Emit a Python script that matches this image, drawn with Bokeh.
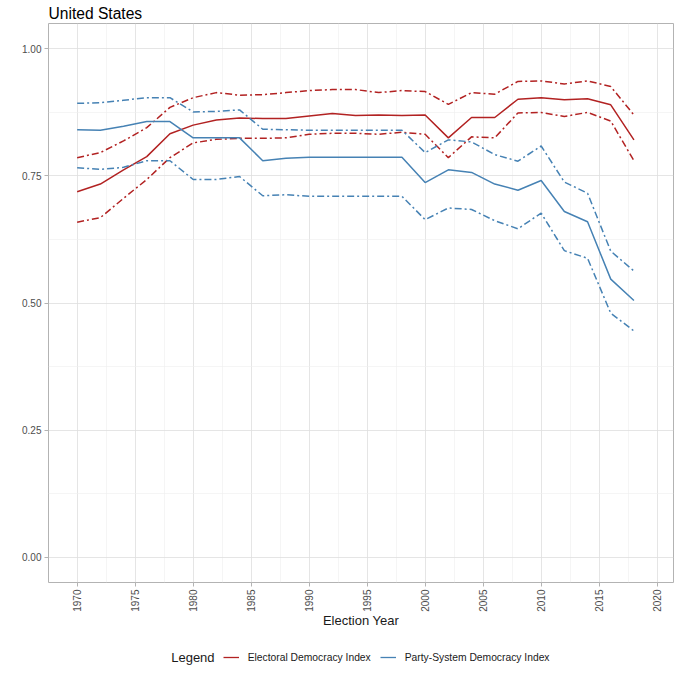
import math
from bokeh.plotting import figure
from bokeh.layouts import column
from bokeh.models import (Range1d, FixedTicker, NumeralTickFormatter, Legend, LegendItem,
                          ColumnDataSource)
from bokeh.core.properties import value
from bokeh.embed import file_html
from bokeh.resources import INLINE

years = [1970, 1972, 1974, 1976, 1978, 1980, 1982, 1984, 1986, 1988, 1990, 1992, 1994,
         1996, 1998, 2000, 2002, 2004, 2006, 2008, 2010, 2012, 2014, 2016, 2018]

edi = [0.719, 0.734, 0.762, 0.788, 0.833, 0.850, 0.860, 0.864, 0.863, 0.863, 0.868, 0.873, 0.869,
       0.870, 0.869, 0.870, 0.825, 0.865, 0.865, 0.901, 0.904, 0.900, 0.902, 0.890, 0.821]
edi_hi = [0.786, 0.796, 0.819, 0.845, 0.885, 0.904, 0.914, 0.909, 0.910, 0.914, 0.918, 0.920, 0.920,
          0.914, 0.918, 0.916, 0.891, 0.914, 0.911, 0.936, 0.937, 0.931, 0.937, 0.926, 0.870]
edi_lo = [0.659, 0.668, 0.706, 0.743, 0.786, 0.815, 0.822, 0.824, 0.824, 0.825, 0.832, 0.834, 0.834,
          0.832, 0.836, 0.832, 0.786, 0.827, 0.825, 0.874, 0.875, 0.867, 0.875, 0.858, 0.780]

psdi = [0.841, 0.840, 0.848, 0.857, 0.857, 0.825, 0.825, 0.825, 0.780, 0.785, 0.787, 0.787, 0.787,
        0.787, 0.787, 0.737, 0.762, 0.757, 0.734, 0.722, 0.741, 0.680, 0.660, 0.547, 0.505]
psdi_hi = [0.893, 0.894, 0.899, 0.904, 0.904, 0.876, 0.877, 0.880, 0.842, 0.841, 0.840, 0.840, 0.840,
           0.840, 0.840, 0.796, 0.821, 0.817, 0.792, 0.779, 0.809, 0.738, 0.716, 0.602, 0.563]
psdi_lo = [0.766, 0.763, 0.767, 0.780, 0.780, 0.743, 0.743, 0.749, 0.711, 0.713, 0.710, 0.710, 0.710,
           0.710, 0.710, 0.664, 0.687, 0.684, 0.662, 0.646, 0.677, 0.603, 0.588, 0.480, 0.445]

x_ticks = [1970, 1975, 1980, 1985, 1990, 1995, 2000, 2005, 2010, 2015, 2020]
x_minor = [1972.5, 1977.5, 1982.5, 1987.5, 1992.5, 1997.5, 2002.5, 2007.5, 2012.5, 2017.5]
y_ticks = [0.0, 0.25, 0.5, 0.75, 1.0]
y_minor = [0.125, 0.375, 0.625, 0.875]

series_labels = ["Electoral Democracy Index", "Party-System Democracy Index"]
legend_title = "Legend"

RED = "#B22222"
BLUE = "#4682B4"
FONT = "Liberation Sans"
DASH = "7 3 2 3"

src = ColumnDataSource(dict(year=years, edi=edi, edi_hi=edi_hi, edi_lo=edi_lo,
                            psdi=psdi, psdi_hi=psdi_hi, psdi_lo=psdi_lo))

BL, BR = 48, 7   # left / right borders shared by both figures

# ---------------- main panel ----------------
p = figure(width=680, height=640, output_backend="svg", toolbar_location=None,
           x_range=Range1d(1967.53, 2021.41), y_range=Range1d(-0.05, 1.05),
           min_border_left=BL, min_border_right=BR, min_border_top=0, min_border_bottom=58,
           title="United States")

p.title.text_font = FONT
p.title.text_font_size = "15.6px"
p.title.text_font_style = "normal"
p.title.text_color = "#000000"
p.title.standoff = 4
p.title.offset = 0

p.background_fill_color = "white"
p.border_fill_color = "white"
p.outline_line_color = "#b3b3b3"
p.outline_line_width = 1

p.xgrid.ticker = FixedTicker(ticks=x_ticks, minor_ticks=x_minor)
p.ygrid.ticker = FixedTicker(ticks=y_ticks, minor_ticks=y_minor)
for g in (p.xgrid, p.ygrid):
    g.grid_line_color = "#dedede"
    g.grid_line_width = 0.8
    g.minor_grid_line_color = "#eeeeee"
    g.minor_grid_line_width = 0.6

p.xaxis.ticker = FixedTicker(ticks=x_ticks)
p.yaxis.ticker = FixedTicker(ticks=y_ticks)
p.yaxis.formatter = NumeralTickFormatter(format="0.00")
p.xaxis.major_label_orientation = math.pi / 2
p.xaxis.axis_label = "Election Year"
for ax in (p.xaxis, p.yaxis):
    ax.axis_line_color = None
    ax.major_tick_line_color = "#b3b3b3"
    ax.major_tick_out = 4
    ax.major_tick_in = 0
    ax.minor_tick_line_color = None
    ax.major_label_text_font = FONT
    ax.major_label_text_font_size = "10px"
    ax.major_label_text_color = "#4d4d4d"
    ax.major_label_standoff = 3
p.xaxis.axis_label_text_font = FONT
p.xaxis.axis_label_text_font_size = "13px"
p.xaxis.axis_label_text_font_style = "normal"
p.xaxis.axis_label_text_color = "#1a1a1a"
p.xaxis.axis_label_standoff = -2

p.line("year", "edi", source=src, line_color=RED, line_width=1.5)
p.line("year", "edi_hi", source=src, line_color=RED, line_width=1.5, line_dash=DASH)
p.line("year", "edi_lo", source=src, line_color=RED, line_width=1.5, line_dash=DASH)
p.line("year", "psdi", source=src, line_color=BLUE, line_width=1.5)
p.line("year", "psdi_hi", source=src, line_color=BLUE, line_width=1.5, line_dash=DASH)
p.line("year", "psdi_lo", source=src, line_color=BLUE, line_width=1.5, line_dash=DASH)

# ---------------- legend strip (pixel coordinates) ----------------
LH = 40
q = figure(width=680, height=LH, output_backend="svg", toolbar_location=None,
           x_range=Range1d(BL, 680 - BR), y_range=Range1d(0, LH),
           x_axis_type=None, y_axis_type=None,
           min_border_left=BL, min_border_right=BR, min_border_top=0, min_border_bottom=0)
q.grid.visible = False
q.outline_line_color = None
q.background_fill_color = "white"
q.border_fill_color = "white"

# key renderers: same series, lying outside this strip's range, so only the legend keys show
k_edi = q.line("year", "edi", source=src, line_color=RED, line_width=1.3)
k_psdi = q.line("year", "psdi", source=src, line_color=BLUE, line_width=1.3)

q.text(x=[170.7], y=[LH - 17.3], text=[legend_title], text_font=value(FONT),
       text_font_size="13px", text_color="#1a1a1a", text_baseline="middle", text_align="left")

legend = Legend(items=[LegendItem(label=series_labels[0], renderers=[k_edi]),
                       LegendItem(label=series_labels[1], renderers=[k_psdi])],
                orientation="horizontal", location=(222.7 - BL, LH - 17.3 - 8))
legend.label_text_font = FONT
legend.label_text_font_size = "10.3px"
legend.label_text_color = "#1a1a1a"
legend.glyph_width = 16
legend.glyph_height = 16
legend.label_standoff = 9
legend.spacing = 9
legend.padding = 0
legend.margin = 0
legend.border_line_color = None
legend.background_fill_alpha = 0
q.add_layout(legend)

layout = column(p, q, spacing=0)
open("out.html", "w").write(file_html(layout, INLINE))
